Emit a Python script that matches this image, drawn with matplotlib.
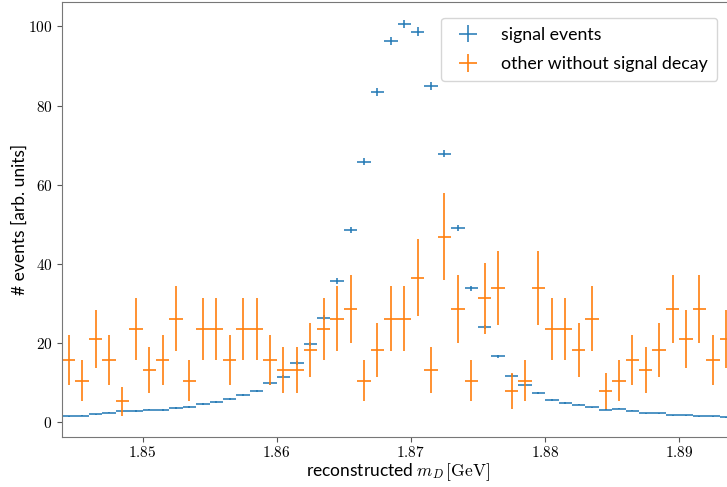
import numpy as np
import matplotlib
matplotlib.use('Agg')
import matplotlib.pyplot as plt
from matplotlib.ticker import FuncFormatter

plt.rcParams['mathtext.fontset'] = 'cm'
plt.rcParams['font.family'] = ['Lato', 'DejaVu Sans']

# 50 bins of 1 MeV between 1.844 and 1.894 GeV
bin_edges = np.linspace(1.844, 1.894, 51)
bin_centers = 0.5 * (bin_edges[1:] + bin_edges[:-1])
bin_half = 0.5 * (bin_edges[1] - bin_edges[0])

# signal events (weighted, arb. units)
signal = [1.4, 1.5, 1.8, 2.3, 2.6, 2.7, 3.0, 2.9, 3.5, 3.7,
          4.5, 4.9, 5.8, 6.8, 7.7, 9.7, 11.4, 14.8, 19.6, 26.3,
          35.6, 48.5, 65.8, 83.4, 96.3, 100.6, 98.7, 85.0, 67.8, 48.9,
          33.7, 23.9, 16.5, 11.6, 9.3, 7.3, 5.5, 4.7, 4.3, 3.6,
          3.0, 3.3, 2.8, 2.1, 2.1, 1.6, 1.6, 1.3, 1.3, 1.1]
signal_weight = 0.012

# other events without signal decay: raw counts per bin and event weight
other_counts = [6, 4, 8, 6, 2, 9, 5, 6, 10, 4,
                9, 9, 6, 9, 9, 6, 5, 5, 7, 9,
                10, 11, 4, 7, 10, 10, 14, 5, 18, 11,
                4, 12, 13, 3, 4, 13, 9, 9, 7, 10,
                3, 4, 6, 5, 7, 11, 8, 11, 6, 8]
other_weight = 2.6

signal = np.array(signal)
signal_err = np.sqrt(signal * signal_weight)
other = np.array(other_counts) * other_weight
other_err = np.sqrt(np.array(other_counts)) * other_weight

fig = plt.figure(figsize=(7.27, 4.87), dpi=100)
ax = fig.add_axes([62 / 727, 1 - 437 / 487, 671 / 727, 435 / 487])

ax.errorbar(bin_centers, signal, xerr=bin_half, yerr=signal_err,
            fmt='none', ecolor='tab:blue', elinewidth=1.1,
            label='signal events')
ax.errorbar(bin_centers, other, xerr=bin_half, yerr=other_err,
            fmt='none', ecolor='tab:orange', elinewidth=1.2,
            label='other without signal decay')

ax.set_xlim(1.844, 1.894)
ax.set_ylim(-3.9, 106.2)
ax.set_xticks([1.85, 1.86, 1.87, 1.88, 1.89])
ax.set_yticks([0, 20, 40, 60, 80, 100])
ax.xaxis.set_major_formatter(FuncFormatter(lambda v, p: r'$%.2f$' % v))
ax.yaxis.set_major_formatter(FuncFormatter(lambda v, p: r'$%d$' % v))
ax.tick_params(labelsize=11, color='#555555')
ax.tick_params(axis='x', pad=2)
for side in ax.spines.values():
    side.set_color('#777777')

ax.set_xlabel(r'reconstructed $m_D\,[\mathrm{GeV}]$', fontsize=12.5,
              labelpad=1)
ax.set_ylabel('# events [arb. units]', fontsize=12.5, labelpad=0)

ax.legend(loc='upper right', bbox_to_anchor=(726 / 727, 1 - 9 / 487),
          bbox_transform=fig.transFigure, fontsize=12.8,
          labelspacing=0.75, handletextpad=0.9, borderpad=0.5)

fig.savefig('out.png', dpi=100)
